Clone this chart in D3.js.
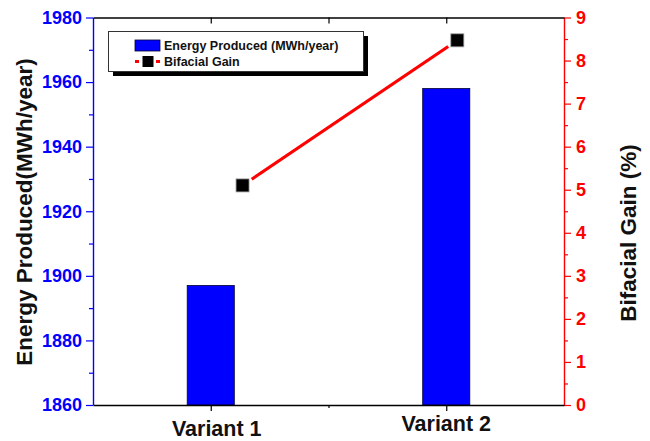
<!DOCTYPE html>
<html>
<head>
<meta charset="utf-8">
<script src="https://cdn.jsdelivr.net/npm/d3@7"></script>
<style>
  body { margin: 0; background: white; }
  text { font-family: Arial, "Liberation Sans", sans-serif; font-weight: bold; }
</style>
</head>
<body>
<svg width="650" height="441"></svg>
<script>
// data
var categories = ["Variant 1", "Variant 2"];
var barX = [1, 2];
var energy = [1897, 1958];
var gainX = [1.135, 2.047];   // line symbols sit a bit right of the bars
var gain = [5.1, 8.47];
var energyTicks = [1860, 1880, 1900, 1920, 1940, 1960, 1980];
var gainTicks = [0, 1, 2, 3, 4, 5, 6, 7, 8, 9];

var plotLeft = 93, plotRight = 564, plotTop = 17.5, plotBottom = 405;
var svg = d3.select("svg");

var x = d3.scaleLinear().domain([0.5, 2.5]).range([plotLeft, plotRight]);
var yL = d3.scaleLinear().domain([1860, 1980]).range([plotBottom, plotTop]);
var yR = d3.scaleLinear().domain([0, 9]).range([plotBottom, plotTop]);

// bars
svg.selectAll(".bar")
  .data(energy).enter()
  .append("rect")
  .attr("x", function(d, i){ return x(barX[i] - 0.1) })
  .attr("width", x(1.1) - x(0.9))
  .attr("y", function(d){ return yL(d) })
  .attr("height", function(d){ return plotBottom - yL(d) })
  .attr("fill", "#0000ff")
  .attr("stroke", "#000033")
  .attr("stroke-width", 0.8);

// line with gap to symbol
var pts = gain.map(function(d, i){ return [x(gainX[i]), yR(d)] });
var dx = pts[1][0] - pts[0][0], dy = pts[1][1] - pts[0][1];
var len = Math.sqrt(dx*dx + dy*dy), gap = 11;
svg.append("line")
  .attr("x1", pts[0][0] + dx/len*gap).attr("y1", pts[0][1] + dy/len*gap)
  .attr("x2", pts[1][0] - dx/len*gap).attr("y2", pts[1][1] - dy/len*gap)
  .attr("stroke", "#ff0000").attr("stroke-width", 3.2);

svg.selectAll(".pt")
  .data(pts).enter()
  .append("rect")
  .attr("x", function(d){ return d[0] - 6.5 })
  .attr("y", function(d){ return d[1] - 6.5 })
  .attr("width", 13).attr("height", 13)
  .attr("fill", "black")
  .attr("stroke", "#999").attr("stroke-width", 0.8);

// axes
function styleAxis(g, color, size) {
  g.select(".domain").attr("stroke", color).attr("stroke-width", 1.4);
  g.selectAll(".tick line").attr("stroke", color).attr("stroke-width", 1.2);
  g.selectAll(".tick text").attr("fill", color).style("font-size", size + "px");
}

var gl = svg.append("g").attr("transform", "translate(" + plotLeft + ",0)")
  .call(d3.axisLeft(yL).tickValues(d3.range(1860, 1981, 10)).tickSize(7).tickSizeOuter(0)
    .tickFormat(function(d){ return energyTicks.indexOf(d) >= 0 ? d : "" }));
styleAxis(gl, "#0000ff", 18);
gl.selectAll(".tick line").attr("x2", function(d){ return energyTicks.indexOf(d) >= 0 ? -7 : -4 });
gl.selectAll(".tick text").attr("x", -11);

var gr = svg.append("g").attr("transform", "translate(" + plotRight + ",0)")
  .call(d3.axisRight(yR).tickValues(d3.range(0, 9.01, 0.5)).tickSize(7).tickSizeOuter(0)
    .tickFormat(function(d){ return gainTicks.indexOf(d) >= 0 ? d : "" }));
styleAxis(gr, "#ff0000", 18);
gr.selectAll(".tick line").attr("x2", function(d){ return gainTicks.indexOf(d) >= 0 ? 7 : 4 });
gr.selectAll(".tick text").attr("x", 12);

var gb = svg.append("g").attr("transform", "translate(0," + plotBottom + ")")
  .call(d3.axisBottom(x).tickValues([1, 1.5, 2]).tickSize(6).tickSizeOuter(0)
    .tickFormat(""));
styleAxis(gb, "black", 18);
gb.selectAll(".tick line").attr("y2", function(d){ return d % 1 == 0 ? 6 : 3 });

var gt = svg.append("g").attr("transform", "translate(0," + plotTop + ")")
  .call(d3.axisTop(x).tickValues([1, 1.5, 2]).tickSize(-6).tickSizeOuter(0)
    .tickFormat(""));
styleAxis(gt, "black", 18);

// category labels
svg.selectAll(".cat")
  .data(categories).enter()
  .append("text")
  .attr("x", function(d, i){ return x(barX[i]) + (i == 0 ? 6 : 0) })
  .attr("y", function(d, i){ return i == 0 ? 436 : 431 })
  .attr("text-anchor", "middle")
  .style("font-size", "21.5px")
  .attr("fill", "#111")
  .text(function(d){ return d });

// axis titles
svg.append("text")
  .attr("transform", "translate(32,212) rotate(-90)")
  .attr("text-anchor", "middle")
  .style("font-size", "22.5px")
  .attr("fill", "#111")
  .text("Energy Produced(MWh/year)");

svg.append("text")
  .attr("transform", "translate(636,233) rotate(-90)")
  .attr("text-anchor", "middle")
  .style("font-size", "22.5px")
  .attr("fill", "#111")
  .text("Bifacial Gain (%)");

// legend
var lg = svg.append("g");
lg.append("rect").attr("x", 113).attr("y", 36).attr("width", 255).attr("height", 40).attr("fill", "black");
lg.append("rect").attr("x", 108.5).attr("y", 31.5).attr("width", 255).attr("height", 40)
  .attr("fill", "white").attr("stroke", "#333").attr("stroke-width", 1);
lg.append("rect").attr("x", 135).attr("y", 40).attr("width", 25).attr("height", 11)
  .attr("fill", "#0000ff").attr("stroke", "#000033").attr("stroke-width", 0.8);
lg.append("line").attr("x1", 135).attr("x2", 160).attr("y1", 61.5).attr("y2", 61.5)
  .attr("stroke", "#ff0000").attr("stroke-width", 3).attr("stroke-dasharray", "4,17");
lg.append("rect").attr("x", 142.5).attr("y", 56).attr("width", 11).attr("height", 11).attr("fill", "black");
lg.append("text").attr("x", 164).attr("y", 50).style("font-size", "12.5px").attr("fill", "#111")
  .text("Energy Produced (MWh/year)");
lg.append("text").attr("x", 164).attr("y", 66).style("font-size", "12.5px").attr("fill", "#111")
  .text("Bifacial Gain");
</script>
</body>
</html>
